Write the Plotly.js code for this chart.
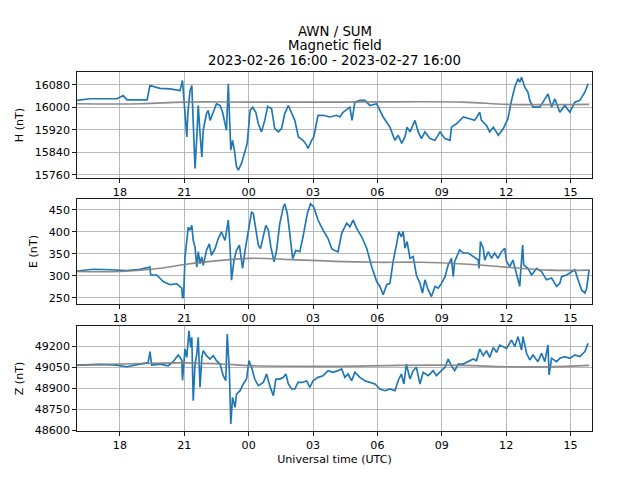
<!DOCTYPE html>
<html>
<head>
<meta charset="utf-8">
<script src="https://cdn.plot.ly/plotly-3.0.1.min.js"></script>
<style>html,body{margin:0;padding:0;background:#fff}#chart{width:640px;height:480px}</style>
</head>
<body>
<div id="chart"></div>
<script>
// Time offsets are minutes after 2023-02-26 16:00 UTC
var startUTC = Date.UTC(2023, 1, 26, 16, 0, 0);

var hMinutes = [0,36,112,129,140,196,204,232,260,288,295,299,307,310,316,321,325,330,335,339,344,349,353,362,367,372,381,390,400,407,414,418,423,428,430,435,440,446,451,460,470,476,484,491,500,507,516,525,533,544,553,563,572,581,591,600,609,619,632,642,646,656,662,674,688,707,726,735,744,763,769,777,791,805,819,838,856,875,889,898,908,917,923,931,945,954,963,973,987,1001,1015,1029,1043,1047,1061,1080,1098,1112,1126,1131,1145,1154,1164,1178,1192,1205,1215,1224,1233,1238,1243,1252,1261,1266,1275,1294,1303,1317,1327,1336,1350,1364,1378,1392,1406,1420,1429];
var hValues = [16025,16031,16031,16042,16027,16027,16078,16068,16066,16060,16096,16025,15895,15979,16060,16078,15954,15783,15895,16007,15908,15824,15919,15978,15989,15954,15983,16013,16007,15983,15942,15919,16084,15954,15848,15883,15848,15789,15777,15801,15848,15872,15989,16001,15983,15942,15913,15954,16003,15995,15925,15913,15925,15978,16007,15983,15954,15895,15883,15866,15854,15883,15895,15972,15972,15966,15972,15966,15983,16001,15954,16019,16025,16025,16007,16013,15966,15930,15883,15901,15872,15895,15930,15913,15954,15913,15889,15913,15889,15883,15913,15889,15883,15930,15942,15966,15960,15954,15983,15954,15936,15913,15930,15901,15925,15960,16025,16072,16102,16090,16107,16072,16054,16025,16001,16001,16019,16048,16001,16031,15983,16007,15983,16019,16025,16054,16084];

var eMinutes = [0,46,92,139,176,204,206,223,241,260,279,293,295,298,302,311,316,321,325,330,335,339,344,349,353,362,370,376,386,395,404,414,423,428,432,439,446,454,458,463,470,479,488,493,500,507,513,521,528,535,542,551,558,567,577,581,588,595,603,612,623,632,644,653,662,674,688,702,712,721,730,740,754,763,772,782,796,810,824,838,847,856,866,875,884,894,900,907,912,917,923,931,940,949,959,966,973,982,991,1001,1010,1019,1029,1038,1047,1052,1056,1070,1080,1094,1108,1122,1124,1128,1136,1140,1150,1159,1168,1177,1187,1196,1201,1210,1219,1229,1238,1241,1246,1249,1261,1271,1285,1299,1313,1327,1341,1350,1355,1369,1383,1392,1401,1411,1420,1425,1432];
var eValues = [311,315,314,312,315,320,302,302,287,280,282,272,249,252,343,411,404,415,381,366,320,355,328,343,324,358,373,347,362,385,400,381,427,366,290,336,358,370,347,317,358,404,445,442,404,370,362,389,415,404,366,332,358,419,457,464,442,396,339,358,355,389,442,464,457,427,404,385,362,358,355,397,420,412,427,408,389,363,321,287,276,257,280,283,333,374,401,389,401,363,378,340,344,302,283,261,291,268,253,276,272,283,298,325,340,298,333,359,352,352,344,336,317,378,363,336,355,340,352,340,355,363,333,321,336,302,276,314,370,325,317,302,317,310,291,295,276,283,298,302,310,314,291,268,261,272,314];

var zMinutes = [0,64,111,139,176,199,204,209,232,255,269,283,293,295,302,307,313,318,321,325,330,335,339,344,349,353,362,372,381,390,400,409,416,420,426,430,435,442,446,456,465,474,481,488,497,507,521,530,539,549,556,567,577,584,591,600,609,618,632,642,651,660,674,688,702,716,730,740,749,758,768,777,791,805,819,833,847,861,875,889,898,907,914,921,931,940,949,959,968,982,996,1005,1019,1029,1038,1047,1056,1066,1080,1098,1108,1117,1126,1136,1145,1154,1164,1173,1182,1201,1215,1224,1233,1243,1247,1257,1266,1275,1289,1299,1308,1317,1320,1327,1341,1350,1364,1378,1392,1406,1420,1429];
var zValues = [49064,49069,49064,49052,49071,49081,49160,49064,49071,49059,49088,49136,49100,48955,49179,49119,49309,49190,49262,48809,49071,49143,49262,48905,49119,49167,49131,49107,49131,49095,49071,48988,48952,49286,49024,48643,48833,48762,48857,48881,48929,48964,49095,49048,48964,48917,48940,49000,48917,48845,48964,48964,48976,49000,48929,48893,48893,48940,48940,48952,48905,48952,48976,48988,49024,49012,49024,49036,48976,49000,48952,49012,48976,48952,48940,48929,48893,48881,48893,48881,48952,49000,48929,49071,48964,49024,49048,48929,49012,48988,49024,48988,49024,49048,49107,49059,49024,49071,49071,49095,49107,49095,49179,49131,49167,49119,49190,49155,49207,49183,49243,49195,49267,49171,49267,49148,49100,49136,49088,49148,49088,49207,48993,49112,49088,49112,49124,49112,49136,49124,49160,49219];

// Baselines (quiet-day curves)
var hBaseMinutes = [0,180,300,480,720,900,1080,1200,1320,1432];
var hBaseValues = [16013,16013,16019,16019,16019,16020,16019,16011,16010,16011];
var eBaseMinutes = [0,120,240,300,480,600,720,840,960,1080,1200,1320,1432];
var eBaseValues = [310,310,318,326,340,337,333,331,331,327,320,313,313];
var zBaseMinutes = [0,180,300,420,480,720,900,1080,1200,1320,1432];
var zBaseValues = [49064,49075,49080,49070,49060,49055,49062,49062,49052,49052,49062];

var titleLines = ['AWN / SUM', 'Magnetic field', '2023-02-26 16:00 - 2023-02-27 16:00'];
var yTitles = ['H (nT)', 'E (nT)', 'Z (nT)'];
var xTitle = 'Universal time (UTC)';

function toDates(mins) {
  return mins.map(function (m) {
    return new Date(startUTC + m * 60000).toISOString().slice(0, 19).replace('T', ' ');
  });
}

var blue = '#1f77b4';
var gray = 'rgba(128,128,128,0.9)';
var lw = 1.67;

var traces = [
  {x: toDates(hMinutes), y: hValues, xaxis: 'x', yaxis: 'y', mode: 'lines', line: {color: blue, width: lw}},
  {x: toDates(hBaseMinutes), y: hBaseValues, xaxis: 'x', yaxis: 'y', mode: 'lines', line: {color: gray, width: lw, shape: 'spline'}},
  {x: toDates(eMinutes), y: eValues, xaxis: 'x2', yaxis: 'y2', mode: 'lines', line: {color: blue, width: lw}},
  {x: toDates(eBaseMinutes), y: eBaseValues, xaxis: 'x2', yaxis: 'y2', mode: 'lines', line: {color: gray, width: lw, shape: 'spline'}},
  {x: toDates(zMinutes), y: zValues, xaxis: 'x3', yaxis: 'y3', mode: 'lines', line: {color: blue, width: lw}},
  {x: toDates(zBaseMinutes), y: zBaseValues, xaxis: 'x3', yaxis: 'y3', mode: 'lines', line: {color: gray, width: lw, shape: 'spline'}}
];

var font = {family: 'DejaVu Sans, sans-serif', size: 11.1, color: '#000'};

function xax(anchor, withTitle) {
  var a = {
    anchor: anchor, type: 'date',
    range: ['2023-02-26 16:00:00', '2023-02-27 16:00:00'],
    tick0: '2023-02-26 18:00:00', dtick: 3 * 3600000, tickformat: '%H',
    showgrid: true, gridcolor: '#b0b0b0', gridwidth: 0.89,
    showline: true, linecolor: '#000', linewidth: 0.89, mirror: true,
    ticks: 'outside', ticklen: 3.9, tickwidth: 0.89, tickcolor: '#000',
    tickfont: font, zeroline: false
  };
  if (withTitle) a.title = {text: xTitle, font: font, standoff: 4};
  return a;
}
function yax(anchor, dom, rng, dt, title) {
  return {
    anchor: anchor, domain: dom, range: rng, dtick: dt, tick0: 0,
    tickformat: 'd',
    showgrid: true, gridcolor: '#b0b0b0', gridwidth: 0.89,
    showline: true, linecolor: '#000', linewidth: 0.89, mirror: true,
    ticks: 'outside', ticklen: 3.9, tickwidth: 0.89, tickcolor: '#000',
    tickfont: font, zeroline: false,
    title: {text: title, font: font, standoff: 8}
  };
}

var layout = {
  width: 640, height: 480,
  margin: {l: 77, r: 48, t: 72, b: 49},
  paper_bgcolor: '#fff', plot_bgcolor: '#fff',
  showlegend: false,
  font: font,
  xaxis: xax('y', false),
  xaxis2: xax('y2', false),
  xaxis3: xax('y3', true),
  yaxis: yax('x', [0.7047, 1], [15749, 16126], 80, yTitles[0]),
  yaxis2: yax('x2', [0.3538, 0.6462], [236, 475], 50, yTitles[1]),
  yaxis3: yax('x3', [0, 0.2925], [48593, 49343], 150, yTitles[2]),
  annotations: [
    {text: titleLines[0], xref: 'paper', yref: 'paper', x: 0.5, y: 1.112, xanchor: 'center', yanchor: 'middle', showarrow: false, font: {family: font.family, size: 13.3, color: '#000'}},
    {text: titleLines[1], xref: 'paper', yref: 'paper', x: 0.5, y: 1.0733, xanchor: 'center', yanchor: 'middle', showarrow: false, font: {family: font.family, size: 13.3, color: '#000'}},
    {text: titleLines[2], xref: 'paper', yref: 'paper', x: 0.5, y: 1.0315, xanchor: 'center', yanchor: 'middle', showarrow: false, font: {family: font.family, size: 13.3, color: '#000'}}
  ]
};

Plotly.newPlot('chart', traces, layout, {staticPlot: true, displayModeBar: false});
</script>
</body>
</html>
